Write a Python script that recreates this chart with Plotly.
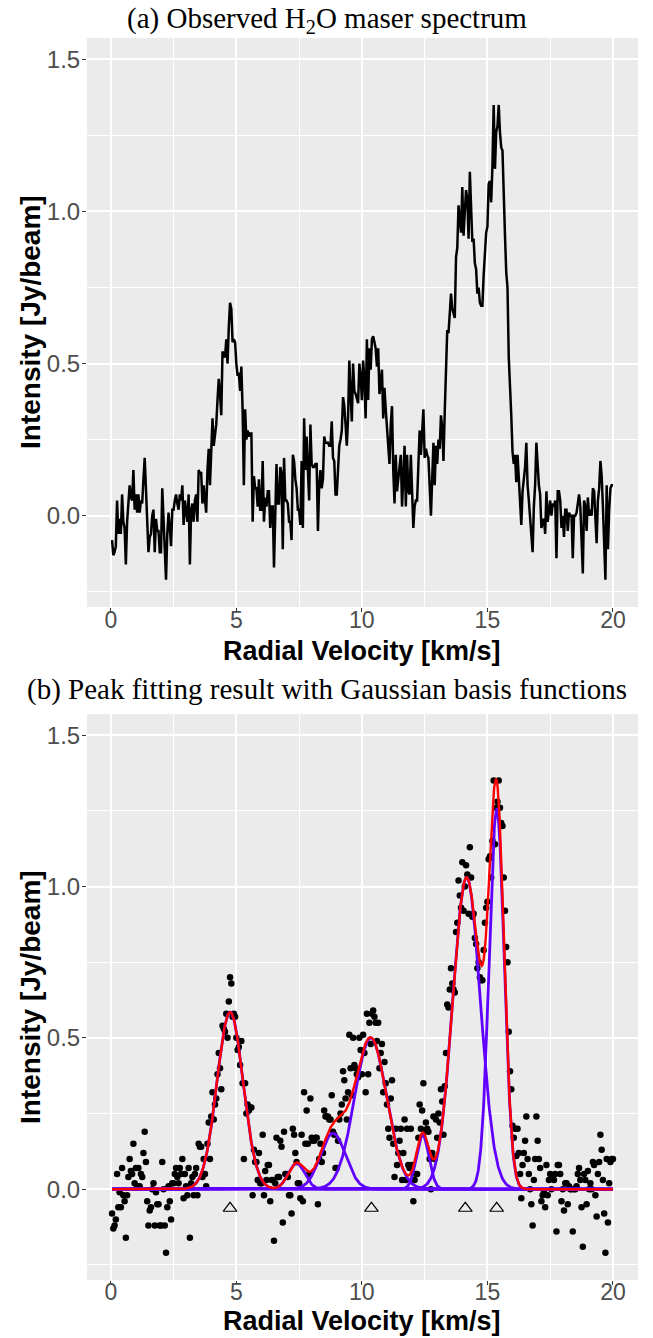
import numpy as np
import plotly.graph_objects as go

# ---------------- data ----------------
velocity = np.round(np.arange(1, 401) * 0.05, 2)  # channel velocities [km/s]

intensity = [
    -0.08, -0.13, -0.12, -0.10, 0.05, -0.06, -0.01, -0.06, 0.07, -0.02, -0.04, -0.16, -0.02, 0.04, 0.10, 0.06, 0.05, 0.15, 0.02, 0.07,
    0.01, 0.07, 0.01, 0.05, 0.04, 0.12, 0.19, 0.09, -0.04, -0.12, -0.07, -0.06, 0.00, 0.02, -0.12, -0.01, -0.05, -0.05, -0.12, -0.12,
    0.09, 0.00, -0.12, -0.21, -0.06, 0.01, -0.04, -0.10, 0.02, 0.02, 0.05, 0.07, 0.04, 0.02, 0.07, 0.05, 0.10, -0.03, 0.05, 0.01,
    -0.02, 0.07, -0.16, 0.02, 0.04, -0.02, 0.05, 0.07, -0.02, 0.15, 0.14, 0.14, 0.04, 0.10, 0.05, 0.01, 0.15, 0.22, 0.10, 0.24,
    0.32, 0.23, 0.28, 0.30, 0.38, 0.45, 0.40, 0.33, 0.54, 0.53, 0.52, 0.58, 0.50, 0.62, 0.70, 0.68, 0.57, 0.58, 0.57, 0.50,
    0.46, 0.47, 0.41, 0.49, 0.35, 0.10, 0.35, 0.25, 0.28, 0.26, 0.27, 0.27, -0.02, 0.13, 0.09, 0.09, 0.03, 0.12, 0.02, 0.02,
    0.18, -0.02, 0.06, 0.03, 0.08, 0.08, -0.04, 0.03, 0.03, -0.17, 0.02, 0.17, 0.04, 0.04, 0.16, 0.14, -0.11, 0.19, 0.05, 0.05,
    0.04, -0.02, -0.02, -0.08, 0.20, 0.18, 0.12, 0.09, 0.02, 0.02, -0.03, 0.18, -0.04, 0.32, 0.15, 0.26, 0.15, 0.05, 0.30, 0.17,
    0.16, 0.16, 0.17, 0.17, -0.05, 0.10, 0.15, 0.09, 0.12, 0.26, 0.24, 0.24, 0.24, 0.23, 0.23, 0.31, 0.19, 0.18, 0.07, 0.07,
    0.16, 0.23, 0.25, 0.28, 0.39, 0.36, 0.30, 0.23, 0.32, 0.51, 0.40, 0.31, 0.50, 0.41, 0.40, 0.38, 0.37, 0.50, 0.46, 0.38,
    0.51, 0.45, 0.32, 0.58, 0.38, 0.55, 0.48, 0.58, 0.59, 0.57, 0.55, 0.49, 0.55, 0.40, 0.45, 0.48, 0.32, 0.42, 0.35, 0.28,
    0.20, 0.17, 0.30, 0.36, 0.15, 0.04, 0.20, 0.08, 0.12, 0.16, 0.20, 0.03, 0.12, 0.23, 0.03, 0.20, 0.08, 0.07, 0.20, 0.08,
    -0.04, 0.03, 0.05, 0.05, 0.17, 0.28, 0.20, 0.26, 0.35, 0.19, 0.22, 0.20, 0.19, 0.10, 0.00, 0.12, 0.24, 0.10, 0.23, 0.17,
    0.25, 0.22, 0.33, 0.29, 0.18, 0.34, 0.45, 0.61, 0.60, 0.66, 0.73, 0.68, 0.66, 0.65, 0.85, 0.88, 1.02, 0.97, 0.93, 1.08,
    0.92, 1.00, 1.07, 1.04, 0.91, 1.13, 1.03, 0.90, 0.91, 0.83, 0.81, 0.73, 0.75, 0.70, 0.69, 0.69, 0.79, 0.88, 0.93, 0.95,
    1.09, 1.10, 1.03, 1.15, 1.35, 1.14, 1.26, 1.28, 1.35, 1.26, 1.21, 1.20, 1.03, 0.92, 0.80, 0.75, 0.52, 0.39, 0.33, 0.21,
    0.17, 0.20, 0.11, 0.20, 0.12, 0.05, -0.03, 0.08, 0.12, 0.16, 0.24, 0.10, 0.05, 0.00, -0.05, -0.12, 0.03, 0.10, 0.24, 0.16,
    0.10, 0.07, -0.04, -0.02, -0.01, -0.06, 0.08, -0.02, 0.03, 0.05, 0.00, 0.04, 0.03, 0.05, -0.14, 0.08, 0.08, 0.05, -0.04, 0.00,
    -0.07, 0.02, 0.02, -0.05, 0.01, 0.00, 0.00, -0.14, 0.00, 0.00, 0.01, 0.05, 0.07, 0.03, -0.06, -0.19, 0.05, 0.03, -0.05, 0.06,
    0.00, 0.02, 0.00, 0.09, 0.08, -0.02, -0.09, 0.05, 0.09, 0.18, 0.13, 0.03, -0.08, -0.21, 0.10, -0.11, 0.02, 0.09, 0.10, 0.10,
]

# Gaussian basis components
comp_center = [4.75, 7.40, 8.85, 10.35, 12.42, 14.17, 15.37]
comp_amp = [0.585, 0.085, 0.185, 0.50, 0.178, 1.03, 1.255]
comp_sigma = [0.52, 0.33, 0.50, 0.64, 0.25, 0.55, 0.30]

# detected peak markers
peak_pos = [4.75, 10.38, 14.12, 15.37]
peak_mark_y = [-0.063, -0.063, -0.063, -0.063]

x_ticks = [0, 5, 10, 15, 20]
y_ticks = [0.0, 0.5, 1.0, 1.5]

# ---------------- figure ----------------
BLUE = "#6000FF"
RED = "#FF0000"

vfit = np.linspace(velocity[0], velocity[-1], 1200)
comps = [a * np.exp(-(vfit - c) ** 2 / (2 * s ** 2)) for c, a, s in zip(comp_center, comp_amp, comp_sigma)]
total = np.sum(comps, axis=0)

fig = go.Figure()

fig.add_trace(go.Scatter(x=velocity, y=intensity, mode="lines",
                         line=dict(color="black", width=2.5), xaxis="x", yaxis="y",
                         showlegend=False, hoverinfo="skip"))

fig.add_trace(go.Scatter(x=velocity, y=intensity, mode="markers",
                         marker=dict(color="black", size=6.5), xaxis="x2", yaxis="y2",
                         showlegend=False, hoverinfo="skip"))
for comp in comps:
    fig.add_trace(go.Scatter(x=vfit, y=comp, mode="lines", line=dict(color=BLUE, width=2.8),
                             xaxis="x2", yaxis="y2", showlegend=False, hoverinfo="skip"))
fig.add_trace(go.Scatter(x=vfit, y=total, mode="lines", line=dict(color=RED, width=2.4),
                         xaxis="x2", yaxis="y2", showlegend=False, hoverinfo="skip"))
fig.add_trace(go.Scatter(x=peak_pos, y=peak_mark_y, mode="markers",
                         marker=dict(symbol="triangle-up-open", color="black", size=12,
                                     line=dict(width=1.2, color="black")),
                         xaxis="x2", yaxis="y2", showlegend=False, hoverinfo="skip"))

tickfont = dict(family="Liberation Sans, Arial, sans-serif", size=23, color="#4D4D4D")
xrange = [-0.9475, 20.9975]
yrange = [-0.30, 1.57]

common_x = dict(range=xrange, tickvals=x_ticks, ticks="outside", ticklen=4, tickwidth=1.1,
                tickcolor="#333333", tickfont=tickfont, showgrid=True, gridcolor="white",
                gridwidth=1.6, zeroline=False, showline=False, ticklabelstandoff=-12,
                minor=dict(dtick=2.5, tick0=0, showgrid=True, gridcolor="white", gridwidth=0.8, ticks=""))
common_y = dict(range=yrange, tickvals=y_ticks, tickformat=".1f", ticks="outside", ticklen=4,
                tickwidth=1.1, tickcolor="#333333", tickfont=dict(tickfont, size=24), showgrid=True,
                gridcolor="white", gridwidth=1.6, zeroline=False, showline=False, ticklabelstandoff=-3,
                minor=dict(dtick=0.25, tick0=0, showgrid=True, gridcolor="white", gridwidth=0.8, ticks=""))

H_TOP, H_BOT = 38, 1280
span = H_BOT - H_TOP

def py(p):
    return (H_BOT - p) / span

fig.update_layout(
    width=653, height=1338,
    margin=dict(l=87, r=15, t=H_TOP, b=1338 - H_BOT),
    paper_bgcolor="white", plot_bgcolor="#EBEBEB",
    xaxis=dict(common_x, anchor="y", domain=[0, 1]),
    yaxis=dict(common_y, anchor="x", domain=[py(607), 1]),
    xaxis2=dict(common_x, anchor="y2", domain=[0, 1], ticklabelstandoff=-13),
    yaxis2=dict(common_y, anchor="x2", domain=[0, py(714)]),
    showlegend=False,
)

serif = dict(family="Liberation Serif, Times New Roman, serif", size=29, color="black")
bold = dict(family="Liberation Sans, Arial, sans-serif", size=27, color="black")
bold_y = dict(bold, size=28)
xc = (362 - 87) / 551
yx = (30 - 87) / 551
xt = (326.5 - 87) / 551

annots = [
    dict(text="(a) Observed H<sub>2</sub>O maser spectrum", x=xt, y=py(0), yanchor="top", font=serif),
    dict(text="(b) Peak fitting result with Gaussian basis functions", x=xt, y=py(689), font=serif),
    dict(text="<b>Radial Velocity [km/s]</b>", x=xc, y=py(651), font=bold),
    dict(text="<b>Radial Velocity [km/s]</b>", x=xc, y=py(1338), yanchor="bottom", font=bold),
    dict(text="<b>Intensity [Jy/beam]</b>", x=yx, y=py(322), font=bold_y, textangle=-90),
    dict(text="<b>Intensity [Jy/beam]</b>", x=yx, y=py(997), font=bold_y, textangle=-90),
]
for a in annots:
    a.setdefault("yanchor", "middle")
    fig.add_annotation(xref="paper", yref="paper", xanchor="center",
                       showarrow=False, **a)

fig.write_html("out.html")
